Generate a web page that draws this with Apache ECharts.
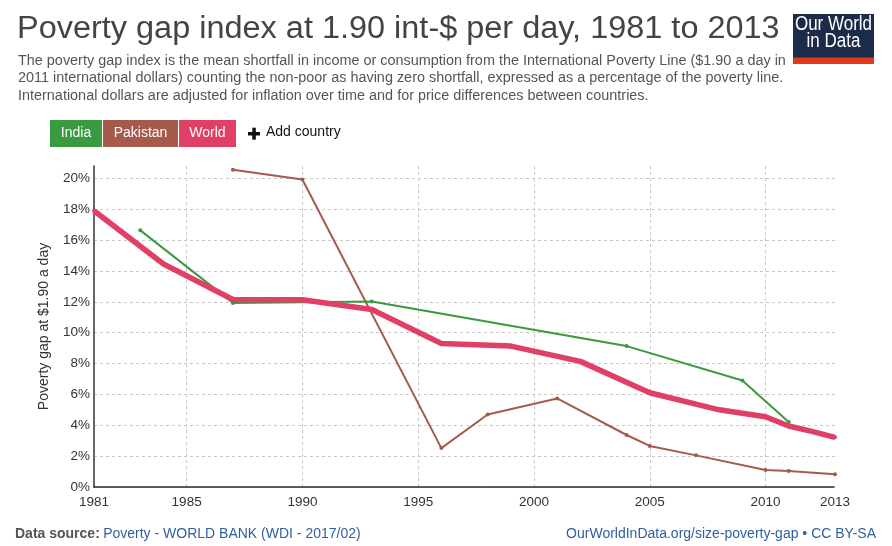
<!DOCTYPE html>
<html><head><meta charset="utf-8">
<script src="https://cdn.jsdelivr.net/npm/echarts@6/dist/echarts.min.js"></script>
<style>html,body{margin:0;padding:0;background:#fff;}#c{width:892px;height:546px;}</style>
</head><body><div id="c"></div>
<script>
const indiaYears = [1983, 1987, 1993, 2004, 2009, 2011];
const indiaValues = [16.63, 11.93, 12.02, 9.13, 6.9, 4.21];
const pakistanYears = [1987, 1990, 1996, 1998, 2001, 2004, 2005, 2007, 2010, 2011, 2013];
const pakistanValues = [20.56, 19.92, 2.52, 4.7, 5.74, 3.37, 2.66, 2.05, 1.1, 1.04, 0.82];
const worldYears = [1981, 1984, 1987, 1990, 1993, 1996, 1999, 2002, 2005, 2008, 2010, 2011, 2012, 2013];
const worldValues = [17.9, 14.45, 12.15, 12.13, 11.5, 9.3, 9.13, 8.14, 6.11, 5.0, 4.55, 3.95, 3.6, 3.22];
const xTickLabels = [1981, 1985, 1990, 1995, 2000, 2005, 2010, 2013];
const xGridYears = [1985, 1990, 1995, 2000, 2005, 2010];

const colors = {India: '#3a9a40', Pakistan: '#a65a4b', World: '#e03f66'};
const pair = (xs, ys) => xs.map((x, i) => [x, ys[i]]);

const xMin = 1981, xMax = 2013;
const gridColors = [];
for (let y = xMin; y <= xMax; y++) gridColors.push(xGridYears.includes(y) ? '#c8c8c8' : 'rgba(0,0,0,0)');

const chart = echarts.init(document.getElementById('c'), null, {renderer: 'canvas'});
const FONT = '"Liberation Sans", Arial, sans-serif';
chart.setOption({
  animation: false,
  textStyle: {fontFamily: FONT},
  grid: {left: 94, right: 57, top: 166, bottom: 59, containLabel: false},
  xAxis: {
    type: 'value', min: xMin, max: xMax, interval: 1,
    axisLine: {show: true, onZero: false, lineStyle: {color: '#222', width: 1.5, type: [2, 1]}},
    axisTick: {show: false},
    axisLabel: {interval: 0, margin: 8, color: '#333', fontSize: 13.5, fontFamily: FONT,
      formatter: v => xTickLabels.includes(v) ? String(v) : ''},
    splitLine: {show: true, lineStyle: {color: gridColors, type: [3, 3], width: 1}}
  },
  yAxis: {
    type: 'value', min: 0, max: 20.8, interval: 2,
    name: 'Poverty gap at $1.90 a day', nameLocation: 'middle', nameRotate: 90, nameGap: 43,
    nameTextStyle: {color: '#333', fontSize: 14, fontFamily: FONT},
    axisLine: {show: true, lineStyle: {color: '#333', width: 1.5}},
    axisTick: {show: false},
    axisLabel: {margin: 4, color: '#333', fontSize: 13.5, fontFamily: FONT,
      formatter: v => (Math.abs(v % 2) < 1e-9 ? v + '%' : '')},
    splitLine: {show: true, showMinLine: false, showMaxLine: false, lineStyle: {color: '#c8c8c8', type: [3, 3], width: 1}}
  },
  series: [
    {name: 'Pakistan', type: 'line', data: pair(pakistanYears, pakistanValues), symbol: 'circle', symbolSize: 4,
      lineStyle: {color: colors.Pakistan, width: 2}, itemStyle: {color: colors.Pakistan}, clip: false},
    {name: 'India', type: 'line', data: pair(indiaYears, indiaValues), symbol: 'circle', symbolSize: 4,
      lineStyle: {color: colors.India, width: 2}, itemStyle: {color: colors.India}, clip: false},
    {name: 'World', type: 'line', data: pair(worldYears, worldValues), symbol: 'circle', symbolSize: 4, showSymbol: true,
      lineStyle: {color: colors.World, width: 5.5}, itemStyle: {color: colors.World}, clip: false}
  ],
  graphic: [
    {type: 'text', x: 17, y: 14, scaleX: 1.047, style: {text: 'Poverty gap index at 1.90 int-$ per day, 1981 to 2013', font: '31px ' + FONT, fill: '#444'}},
    {type: 'text', x: 18, y: 52, scaleX: 1.03, style: {text: 'The poverty gap index is the mean shortfall in income or consumption from the International Poverty Line ($1.90 a day in\n2011 international dollars) counting the non-poor as having zero shortfall, expressed as a percentage of the poverty line.\nInternational dollars are adjusted for inflation over time and for price differences between countries.', font: '14px ' + FONT, fill: '#555', lineHeight: 17.5}},
    {type: 'rect', shape: {x: 793, y: 14, width: 81, height: 50}, style: {fill: '#1d2b4a'}},
    {type: 'rect', shape: {x: 793, y: 57.5, width: 81, height: 6.5}, style: {fill: '#e3391f'}},
    {type: 'text', x: 833.5, y: 34.5, scaleX: 0.85, style: {text: 'Our World', font: '20px ' + FONT, fill: '#fff', align: 'center', verticalAlign: 'bottom', letterSpacing: -0.5}},
    {type: 'text', x: 833.5, y: 51.5, scaleX: 0.85, style: {text: 'in Data', font: '20px ' + FONT, fill: '#fff', align: 'center', verticalAlign: 'bottom', letterSpacing: -0.5}},
    {type: 'rect', shape: {x: 50, y: 120, width: 52, height: 27}, style: {fill: colors.India}},
    {type: 'text', x: 76, y: 133.5, style: {text: 'India', font: '14px ' + FONT, fill: '#fff', align: 'center', verticalAlign: 'middle'}},
    {type: 'rect', shape: {x: 103, y: 120, width: 75, height: 27}, style: {fill: colors.Pakistan}},
    {type: 'text', x: 140.5, y: 133.5, style: {text: 'Pakistan', font: '14px ' + FONT, fill: '#fff', align: 'center', verticalAlign: 'middle'}},
    {type: 'rect', shape: {x: 179, y: 120, width: 57, height: 27}, style: {fill: colors.World}},
    {type: 'text', x: 207.5, y: 133.5, style: {text: 'World', font: '14px ' + FONT, fill: '#fff', align: 'center', verticalAlign: 'middle'}},
    {type: 'rect', shape: {x: 248, y: 132, width: 12, height: 3.5}, style: {fill: '#111'}},
    {type: 'rect', shape: {x: 252.3, y: 127.7, width: 3.5, height: 12}, style: {fill: '#111'}},
    {type: 'text', x: 266, y: 132, style: {text: 'Add country', font: '14px ' + FONT, fill: '#111', verticalAlign: 'middle'}},
    {type: 'text', x: 15, y: 534, style: {text: '{b|Data source:} {l|Poverty - WORLD BANK (WDI - 2017/02)}', verticalAlign: 'middle',
      rich: {b: {font: 'bold 14px ' + FONT, fill: '#555'}, l: {font: '14px ' + FONT, fill: '#2f5f9f'}}}},
    {type: 'text', x: 876, y: 534, style: {text: 'OurWorldInData.org/size-poverty-gap • CC BY-SA', font: '14px ' + FONT, fill: '#2f5f9f', align: 'right', verticalAlign: 'middle'}}
  ]
});
</script></body></html>
